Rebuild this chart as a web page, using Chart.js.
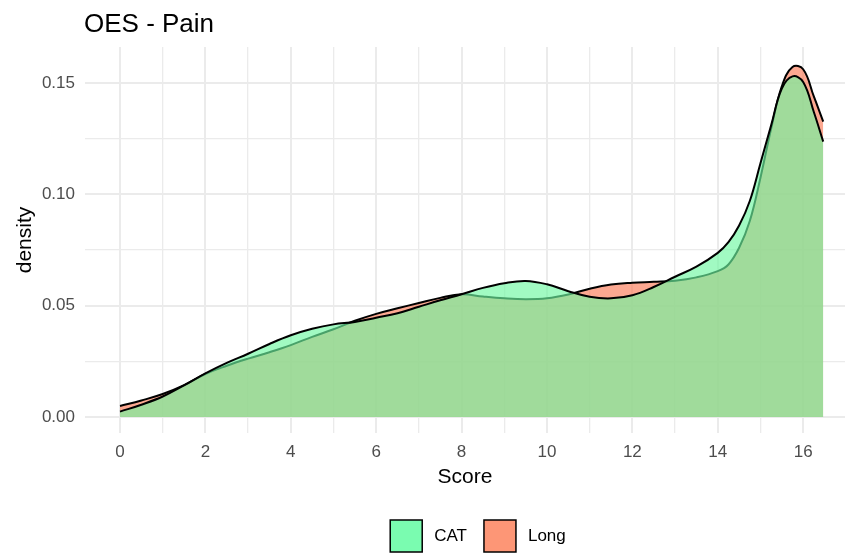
<!DOCTYPE html>
<html>
<head>
<meta charset="utf-8">
<script src="https://cdn.jsdelivr.net/npm/chart.js@4.4.1/dist/chart.umd.min.js"></script>
<style>
  html, body { margin: 0; padding: 0; background: #fff; }
  #wrap { width: 847px; height: 554px; }
</style>
</head>
<body>
<div id="wrap"><canvas id="chart" width="847" height="554"></canvas></div>
<script>
// Data
const scores = [0, 0.5, 1, 1.5, 2, 2.5, 3, 3.5, 4, 4.5, 5, 5.5, 6, 6.5, 7, 7.5, 8, 8.5, 9, 9.5,
  10, 10.5, 11, 11.5, 12, 12.5, 13, 13.5, 14, 14.25, 14.5, 14.75, 15, 15.25, 15.5, 15.75, 16, 16.25, 16.47];

const catDensity = [0.0024, 0.0055, 0.0092, 0.0142, 0.0196, 0.0243, 0.0284, 0.0328, 0.0367, 0.0396,
  0.0416, 0.0427, 0.0446, 0.0466, 0.0495, 0.0524, 0.0551, 0.0580, 0.0601, 0.0611,
  0.0596, 0.0565, 0.0540, 0.0533, 0.0547, 0.0584, 0.0630, 0.0675, 0.0737, 0.0785,
  0.0860, 0.0970, 0.1140, 0.1310, 0.1475, 0.1530, 0.1505, 0.1370, 0.1237];

const longDensity = [0.0049, 0.0074, 0.0103, 0.0143, 0.0193, 0.0230, 0.0262, 0.0291, 0.0323, 0.0360,
  0.0394, 0.0432, 0.0463, 0.0488, 0.0512, 0.0535, 0.0551, 0.0541, 0.0533, 0.0529,
  0.0533, 0.0550, 0.0576, 0.0595, 0.0603, 0.0607, 0.0612, 0.0627, 0.0655, 0.0685,
  0.0760, 0.0880, 0.1075, 0.1295, 0.1485, 0.1572, 0.1562, 0.1440, 0.1327];

const groups = ['CAT', 'Long'];
const xMajorTicks = [0, 2, 4, 6, 8, 10, 12, 14, 16];
const yMajorTicks = [0, 0.05, 0.10, 0.15];
const yTickLabels = ['0.00', '0.05', '0.10', '0.15'];

const FONT = '"Liberation Sans", Arial, Helvetica, sans-serif';
const fills = ['rgba(111, 248, 162, 0.65)', 'rgba(251, 122, 86, 0.65)'];
const legendFills = ['rgb(122, 252, 176)', 'rgb(253, 150, 118)'];

// major ticks plus the minor ones halfway between them
function withMinor(major) {
    const out = [];
    major.forEach((v, i) => {
        out.push(v);
        if (i < major.length - 1) out.push((v + major[i + 1]) / 2);
    });
    return out;
}
const xTicks = withMinor(xMajorTicks);
const yTicks = withMinor(yMajorTicks);

const isMajor = (list, v) => list.some(m => Math.abs(m - v) < 1e-9);

function gridWidth(list) {
    return ctx => (ctx.tick && isMajor(list, ctx.tick.value)) ? 2 : 1.3;
}

// Title drawn above the panel, aligned with its left edge
const titlePlugin = {
    id: 'ggTitle',
    afterDraw(chart) {
        const ctx = chart.ctx;
        ctx.save();
        ctx.fillStyle = '#000';
        ctx.font = '26px ' + FONT;
        ctx.textBaseline = 'alphabetic';
        ctx.textAlign = 'left';
        ctx.fillText('OES - Pain', chart.chartArea.left - 1, 32);
        ctx.restore();
    }
};

// ggplot-style legend at the bottom
const legendPlugin = {
    id: 'ggLegend',
    afterDraw(chart) {
        const ctx = chart.ctx;
        const box = 32, gapText = 12, gapItem = 17;
        ctx.save();
        ctx.font = '17px ' + FONT;
        const widths = groups.map(g => ctx.measureText(g).width);
        let total = 0;
        widths.forEach((w, i) => { total += box + gapText + w + (i < widths.length - 1 ? gapItem : 0); });
        const cx = (chart.chartArea.left + chart.chartArea.right) / 2 + 13;
        let x = cx - total / 2;
        const top = 520;
        groups.forEach((g, i) => {
            ctx.fillStyle = legendFills[i];
            ctx.fillRect(x, top, box, box);
            ctx.strokeStyle = '#000';
            ctx.lineWidth = 1.5;
            ctx.strokeRect(x, top, box, box);
            ctx.fillStyle = '#000';
            ctx.textBaseline = 'middle';
            ctx.textAlign = 'left';
            ctx.fillText(g, x + box + gapText, top + box / 2);
            x += box + gapText + widths[i] + gapItem;
        });
        ctx.restore();
    }
};

const datasets = [catDensity, longDensity].map((vals, i) => ({
    label: groups[i],
    data: scores.map((s, j) => ({ x: s, y: vals[j] })),
    backgroundColor: fills[i],
    borderColor: '#000',
    borderWidth: 2,
    pointRadius: 0,
    fill: 'origin',
    tension: 0.4
}));

new Chart(document.getElementById('chart'), {
    type: 'line',
    data: { datasets },
    options: {
        responsive: false,
        animation: false,
        layout: { padding: { top: 47, right: 2, bottom: 64, left: 0 } },
        plugins: {
            legend: { display: false },
            title: { display: false },
            tooltip: { enabled: false }
        },
        scales: {
            x: {
                type: 'linear',
                min: -0.82,
                max: 16.98,
                afterBuildTicks: scale => { scale.ticks = xTicks.map(v => ({ value: v })); },
                afterFit: scale => { scale.height = 57; },
                border: { display: false },
                grid: { color: '#EBEBEB', lineWidth: gridWidth(xMajorTicks), drawTicks: false },
                ticks: {
                    autoSkip: false,
                    maxRotation: 0,
                    padding: 9,
                    color: '#4D4D4D',
                    font: { family: FONT, size: 17 },
                    callback: v => isMajor(xMajorTicks, v) ? String(v) : ''
                },
                title: {
                    display: true,
                    text: 'Score',
                    color: '#000',
                    font: { family: FONT, size: 21 },
                    padding: { top: 0, bottom: 0 }
                }
            },
            y: {
                min: -0.0072,
                max: 0.1662,
                afterBuildTicks: scale => { scale.ticks = yTicks.map(v => ({ value: v })); },
                afterFit: scale => { scale.width = 85; },
                border: { display: false },
                grid: { color: '#EBEBEB', lineWidth: gridWidth(yMajorTicks), drawTicks: false },
                ticks: {
                    autoSkip: false,
                    padding: 10,
                    color: '#4D4D4D',
                    font: { family: FONT, size: 17 },
                    callback: v => {
                        const k = yMajorTicks.findIndex(m => Math.abs(m - v) < 1e-9);
                        return k >= 0 ? yTickLabels[k] : '';
                    }
                },
                title: {
                    display: true,
                    text: 'density',
                    color: '#000',
                    font: { family: FONT, size: 21 },
                    padding: { top: 13, bottom: 0 }
                }
            }
        }
    },
    plugins: [titlePlugin, legendPlugin]
});
</script>
</body>
</html>
